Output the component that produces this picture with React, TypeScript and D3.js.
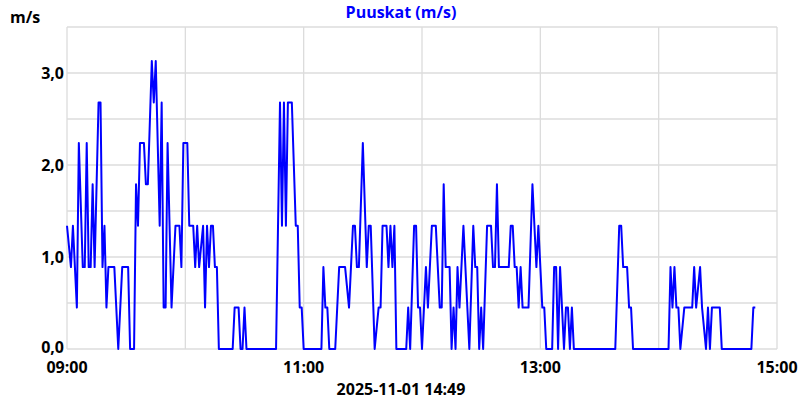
import React from "react";
import * as d3 from "d3";

// minutes after 09:00 (breakpoints of the gust series)
const minutes = [
  0, 2, 3, 5, 6, 8, 9, 10, 11, 12, 13, 14, 16, 17, 18, 19, 20, 21, 24, 26, 28, 31, 32, 34,
  35, 36, 37, 39, 40, 41, 43, 44, 45, 47, 48, 49, 50, 51, 53, 55, 57, 58, 59, 61, 62, 64,
  65, 66, 67, 69, 70, 71, 72, 73, 74, 75, 76, 77, 84, 85, 87, 88, 89, 90, 91, 106,
  108, 109, 110, 111, 112, 114, 116, 117, 118, 119, 120, 129, 130, 131, 132, 133, 136,
  138, 141, 143, 145, 146, 147, 148, 150, 152, 153, 154, 156, 158, 159, 160, 162, 163,
  164, 165, 166, 167, 172, 173, 174, 176, 177, 178, 179, 180, 182, 183, 185, 187, 189,
  190, 191, 192, 194, 195, 196, 197, 198, 199, 201, 204, 206, 207, 208, 209, 210, 211,
  213, 215, 216, 217, 218, 219, 224, 225, 226, 227, 228, 229, 230, 231, 234, 236, 238,
  239, 241, 242, 243, 246, 247, 248, 249, 250, 252, 253, 254, 255, 256, 257, 278, 280,
  281, 282, 284, 285, 286, 287, 305, 306, 307, 308, 309, 310, 311, 313, 317, 318, 319,
  321, 322, 324, 325, 326, 327, 331, 332, 347, 348, 349,
];

// gust speed, m/s
const gusts = [
  1.34, 0.89, 1.34, 0.45, 2.24, 0.89, 0.89, 2.24, 0.89, 0.89, 1.79, 0.89, 2.68, 2.68, 0.89, 1.34, 0.45, 0.89, 0.89, 0.0, 0.89, 0.89, 0.0, 0.0,
  1.79, 1.34, 2.24, 2.24, 1.79, 1.79, 3.13, 2.68, 3.13, 1.34, 2.68, 0.45, 0.45, 2.24, 0.45, 1.34, 1.34, 0.89, 2.24, 2.24, 1.34, 1.34,
  0.89, 1.34, 0.89, 1.34, 0.45, 1.34, 0.89, 1.34, 1.34, 0.89, 0.89, 0.0, 0.0, 0.45, 0.45, 0.0, 0.0, 0.45, 0.0, 0.0,
  2.68, 1.34, 2.68, 1.34, 2.68, 2.68, 1.34, 1.34, 0.45, 0.45, 0.0, 0.0, 0.89, 0.45, 0.45, 0.0, 0.0,
  0.89, 0.89, 0.45, 1.34, 1.34, 0.89, 0.89, 2.24, 0.89, 1.34, 1.34, 0.0, 0.45, 0.45, 1.34, 1.34, 0.89,
  1.34, 0.89, 1.34, 0.0, 0.0, 0.45, 0.0, 1.34, 1.34, 0.45, 0.45, 0.0, 0.89, 0.45, 1.34, 1.34, 0.45,
  0.45, 1.79, 0.89, 0.89, 0.0, 0.45, 0.0, 0.89, 0.45, 1.34, 0.0, 1.34, 0.89, 0.89, 0.0, 0.45, 0.0,
  1.34, 1.34, 0.89, 0.89, 1.79, 0.89, 0.89, 1.34, 1.34, 0.89, 0.89, 0.45, 0.89, 0.45, 0.45, 1.79, 0.89,
  1.34, 0.45, 0.45, 0.0, 0.0, 0.89, 0.89, 0.0, 0.89, 0.0, 0.45, 0.45, 0.0, 0.45, 0.0, 0.0, 1.34,
  1.34, 0.89, 0.89, 0.45, 0.45, 0.0, 0.0, 0.89, 0.45, 0.89, 0.45, 0.45, 0.0, 0.45, 0.45, 0.89, 0.45,
  0.89, 0.45, 0.0, 0.45, 0.0, 0.45, 0.45, 0.0, 0.0, 0.45, 0.45,
];

const yTicks = [0, 1, 2, 3];
const yGrid = [0, 0.5, 1, 1.5, 2, 2.5, 3, 3.5];
const xTickHours = [9, 11, 13, 15];
const xGridHours = [9, 10, 11, 12, 13, 14, 15];
const title = "Puuskat (m/s)";
const unitLabel = "m/s";
const stamp = "2025-11-01 14:49";

const W = 800;
const H = 400;
const M = { left: 67, right: 23, top: 27, bottom: 51 };
const FONT = "'Open Sans', sans-serif";
const FS = 16;

export default function App() {
  const base = new Date(2025, 10, 1, 9, 0);
  const toDate = (m: number) => new Date(base.getTime() + m * 60000);
  const x = d3
    .scaleTime()
    .domain([new Date(2025, 10, 1, 9, 0), new Date(2025, 10, 1, 15, 0)])
    .range([M.left, W - M.right]);
  const y = d3.scaleLinear().domain([0, 3.5]).range([H - M.bottom, M.top]);
  const hourDate = (h: number) => new Date(2025, 10, 1, h, 0);
  const fmtX = d3.timeFormat("%H:%M");
  const fmtY = (v: number) => v.toFixed(1).replace(".", ",");

  const data = minutes.map((m, i) => ({ t: toDate(m), v: gusts[i] }));
  const line = d3
    .line<{ t: Date; v: number }>()
    .x((d) => x(d.t))
    .y((d) => y(d.v));

  return (
    <svg
      width={W}
      height={H}
      style={{ position: "absolute", left: 0, top: 0, background: "#fff" }}
      fontFamily={FONT}
    >
      <rect x={0} y={0} width={W} height={H} fill="#fff" />
      {yGrid.map((g) => (
        <line
          key={"yg" + g}
          x1={M.left}
          x2={W - M.right}
          y1={y(g)}
          y2={y(g)}
          stroke="#dcdcdc"
          strokeWidth={1.3}
        />
      ))}
      {xGridHours.map((h) => (
        <line
          key={"xg" + h}
          x1={x(hourDate(h))}
          x2={x(hourDate(h))}
          y1={y(0)}
          y2={y(3.5)}
          stroke="#dcdcdc"
          strokeWidth={1.3}
        />
      ))}
      <path d={line(data) || ""} fill="none" stroke="#0000ff" strokeWidth={2} strokeLinejoin="round" />
      {yTicks.map((t) => (
        <text
          key={"yt" + t}
          x={M.left - 3}
          y={y(t) - (t === 0 ? 2 : 0)}
          dy="0.35em"
          textAnchor="end"
          fontSize={FS}
          fontWeight="bold"
          fill="#000"
        >
          {fmtY(t)}
        </text>
      ))}
      {xTickHours.map((h) => (
        <text
          key={"xt" + h}
          x={x(hourDate(h))}
          y={y(0) + 18}
          dy="0.35em"
          textAnchor="middle"
          fontSize={FS}
          fontWeight="bold"
          fill="#000"
        >
          {fmtX(hourDate(h))}
        </text>
      ))}
      <text x={401} y={12} dy="0.35em" textAnchor="middle" fontSize={FS} fontWeight="bold" fill="#0000ff">
        {title}
      </text>
      <text x={10} y={17} dy="0.35em" textAnchor="start" fontSize={FS} fontWeight="bold" fill="#000">
        {unitLabel}
      </text>
      <text x={401} y={389} dy="0.35em" textAnchor="middle" fontSize={FS} fontWeight="bold" fill="#000">
        {stamp}
      </text>
    </svg>
  );
}
